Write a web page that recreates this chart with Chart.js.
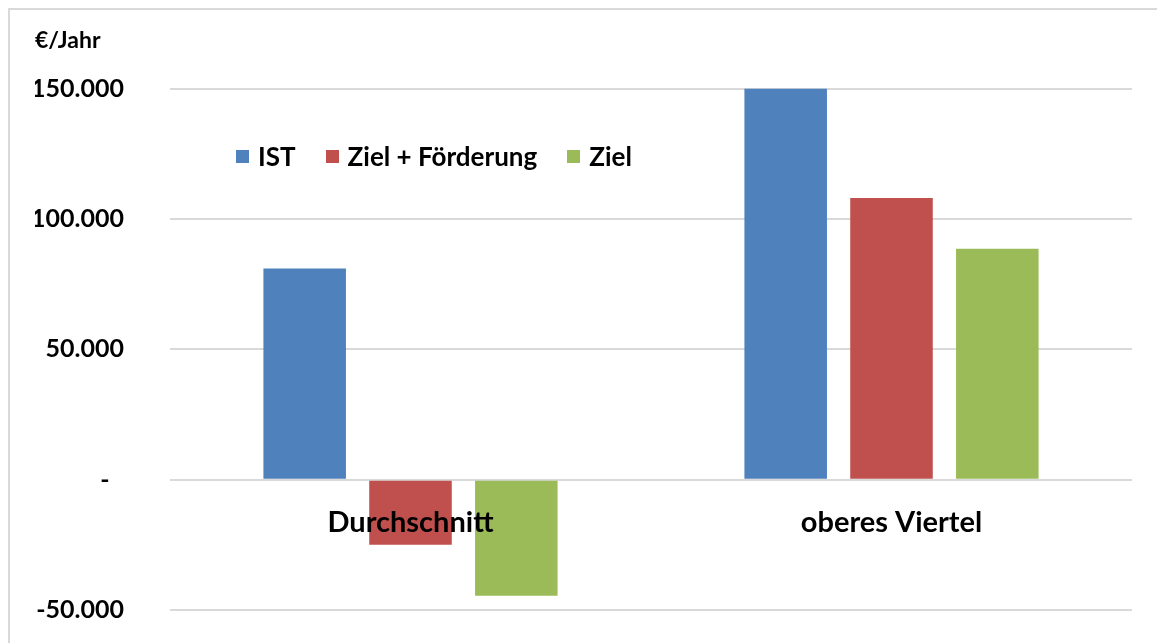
<!DOCTYPE html>
<html lang="de">
<head>
<meta charset="utf-8">
<title>€/Jahr – IST, Ziel + Förderung, Ziel</title>
<script src="https://cdn.jsdelivr.net/npm/chart.js@4/dist/chart.umd.min.js"></script>
<style>
  html, body { margin: 0; padding: 0; background: #fff; overflow: hidden; }
  #wrap { position: relative; width: 1157px; height: 643px; overflow: hidden; }
  #frame {
    position: absolute; left: 8px; top: 8px; width: 1200px; height: 700px;
    border: 2px solid #d9d9d9; box-sizing: border-box;
  }
  #box { position: absolute; left: 0; top: 0; width: 1157px; height: 643px; }
  #legend {
    position: absolute; left: 236px; top: 140px;
    display: flex; align-items: center;
    font-family: Lato, sans-serif; font-weight: bold; font-size: 26px; color: #000;
  }
  .item { display: flex; align-items: center; margin-right: 30px; }
  .swatch { width: 13px; height: 13px; margin-right: 9px; }
</style>
</head>
<body>
<div id="wrap">
  <div id="frame"></div>
  <div id="box"><canvas id="chart"></canvas></div>
  <div id="legend"></div>
</div>
<script>
'use strict';

// ── Data ──────────────────────────────────────────────────────────────────────
const categories   = ['Durchschnitt', 'oberes Viertel'];
const seriesNames  = ['IST', 'Ziel + Förderung', 'Ziel'];
const istValues    = [81000, 150000];
const zielFValues  = [-25000, 108000];
const zielValues   = [-44500, 88600];
const seriesColors = ['#4F81BD', '#C0504D', '#9BBB59'];
const yTicks       = [-50000, 0, 50000, 100000, 150000];

const FONT = 'Lato, sans-serif';

// ── Ticks: German format, zero as accounting dash ────────────────────────────
function formatTick(v) {
  if (v === 0) return '-\u2007';
  return v.toLocaleString('de-DE');
}

// ── Chart ─────────────────────────────────────────────────────────────────────
const ctx = document.getElementById('chart').getContext('2d');
const allSeries = [istValues, zielFValues, zielValues];

const chart = new Chart(ctx, {
  type: 'bar',
  data: {
    labels: categories,
    datasets: allSeries.map((vals, i) => ({
      label: seriesNames[i],
      data: vals,
      backgroundColor: seriesColors[i],
      borderWidth: 0,
      categoryPercentage: 0.66,
      barPercentage: 0.78
    }))
  },
  options: {
    responsive: true,
    maintainAspectRatio: false,
    animation: false,
    layout: { padding: { left: 35, right: 25, top: 0, bottom: 33 } },
    plugins: {
      legend: { display: false },
      tooltip: { enabled: false },
      title: {
        display: true,
        text: '€/Jahr',
        align: 'start',
        color: '#000',
        font: { family: FONT, size: 23, weight: 'bold' },
        padding: { top: 27, bottom: 34 }
      }
    },
    scales: {
      x: {
        position: { y: 0 },
        afterFit: (scale) => { scale.height = 0; }, // axis sits on the zero line, takes no room
        grid: { display: false, drawTicks: false },
        border: { display: false },
        ticks: {
          z: 1, // labels over the bars, as in the original
          color: '#000',
          padding: 26,
          font: { family: FONT, size: 29, weight: 'bold' }
        }
      },
      y: {
        min: yTicks[0],
        max: yTicks[yTicks.length - 1],
        afterBuildTicks: (scale) => { scale.ticks = yTicks.map(v => ({ value: v })); },
        afterFit: (scale) => {
          scale.width = 135;
          // the big tick padding is horizontal only; keep vertical overhang to half a label
          scale.paddingTop = 15;
          scale.paddingBottom = 15;
        },
        grid: { color: '#d9d9d9', lineWidth: 2, drawTicks: false },
        border: { display: false },
        ticks: {
          color: '#000',
          padding: 46,
          font: { family: FONT, size: 25, weight: 'bold' },
          callback: formatTick
        }
      }
    }
  }
});

// ── HTML legend (inside plot area) ────────────────────────────────────────────
const legend = document.getElementById('legend');
seriesNames.forEach((name, i) => {
  const item = document.createElement('div');
  item.className = 'item';
  const sw = document.createElement('span');
  sw.className = 'swatch';
  sw.style.background = seriesColors[i];
  const txt = document.createElement('span');
  txt.textContent = name;
  item.appendChild(sw);
  item.appendChild(txt);
  legend.appendChild(item);
});
</script>
</body>
</html>
